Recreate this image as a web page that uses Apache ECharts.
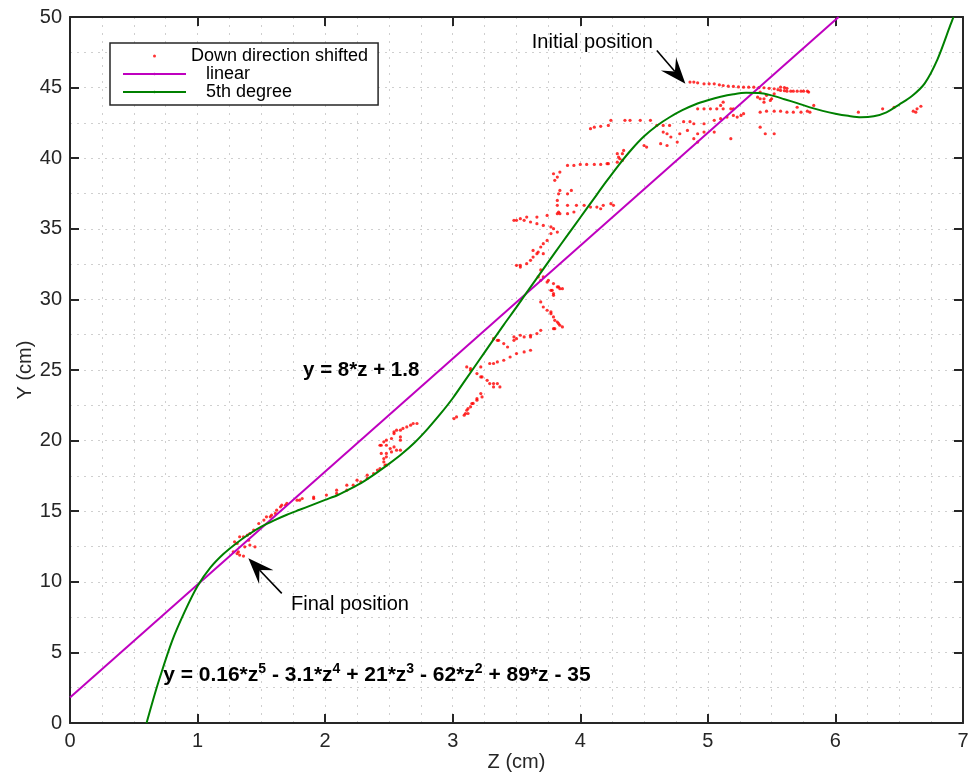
<!DOCTYPE html>
<html>
<head>
<meta charset="utf-8">
<script src="https://cdn.jsdelivr.net/npm/echarts@6/dist/echarts.min.js"></script>
<style>
  html, body { margin: 0; padding: 0; background: #fff; }
  #chart { width: 968px; height: 778px; }
</style>
</head>
<body>
<div id="chart"></div>
<script>
// Measured trajectory (Z, Y) in cm, down direction shifted
const downShifted = [
  [1.28,12.12],[1.31,12.0],[1.33,11.89],[1.36,11.82],[1.29,12.83],[1.32,12.12],[1.37,12.48],[1.41,12.6],[1.45,12.48],
  [1.31,12.72],[1.33,13.19],[1.39,13.3],[1.40,12.95],[1.36,13.19],[1.41,13.42],[1.44,13.66],[1.48,14.13],[1.52,14.37],
  [1.54,14.6],[1.57,14.6],[1.58,14.72],[1.61,14.84],[1.62,15.07],[1.65,15.31],[1.66,15.43],[1.69,15.43],[1.70,15.55],
  [1.78,15.78],[1.80,15.78],[1.82,15.9],[1.91,15.9],[1.91,16.0],[2.01,16.14],[2.09,16.26],[2.09,16.49],[2.17,16.49],
  [2.17,16.84],[2.22,16.84],[2.25,17.2],[2.28,17.08],[2.33,17.32],[2.33,17.55],[2.38,17.67],[2.41,17.91],[2.43,18.02],
  [2.47,18.26],[2.48,18.26],[2.46,18.49],[2.46,18.73],[2.48,18.85],[2.44,19.09],[2.48,19.09],[2.52,19.2],[2.51,19.44],
  [2.56,19.32],[2.59,19.32],[2.54,19.55],[2.48,19.67],[2.44,19.67],[2.43,19.67],[2.46,19.91],[2.48,20.03],[2.52,20.15],
  [2.59,20.03],[2.59,20.26],[2.54,20.5],[2.54,20.62],[2.56,20.74],[2.59,20.74],[2.61,20.86],[2.64,20.97],[2.67,21.09],
  [2.69,21.21],[2.72,21.21],
  [3.01,21.56],[3.03,21.68],[3.09,21.8],[3.10,21.92],[3.12,21.92],[3.11,22.15],[3.12,22.27],[3.14,22.39],[3.15,22.62],
  [3.16,22.63],[3.19,22.86],[3.19,22.97],[3.23,23.09],[3.22,23.33],[3.32,23.8],[3.37,23.8],[3.35,24.04],[3.32,24.04],
  [3.29,24.04],[3.27,24.27],[3.23,24.51],[3.22,24.51],[3.19,24.75],[3.14,24.98],[3.14,25.1],[3.11,25.22],[3.22,25.22],
  [3.29,25.46],[3.32,25.46],[3.35,25.57],[3.40,25.69],[3.45,25.92],[3.50,26.16],[3.56,26.28],[3.61,26.4],[3.43,26.63],
  [3.40,26.87],[3.35,27.1],[3.32,27.22],[3.36,27.1],[3.48,27.1],[3.50,27.22],[3.56,27.34],[3.61,27.34],[3.48,27.34],
  [3.53,27.46],[3.61,27.46],[3.66,27.58],[3.69,27.81],[3.79,27.93],[3.80,27.93],[3.86,28.05],[3.84,28.17],[3.83,28.29],
  [3.82,28.4],[3.80,28.52],[3.79,28.76],[3.77,28.99],[3.77,29.11],[3.74,29.23],[3.71,29.46],[3.69,29.82],[3.79,30.29],
  [3.79,30.41],[3.78,30.64],[3.77,30.64],[3.86,30.76],[3.84,30.76],[3.83,30.88],[3.82,30.88],[3.79,31.12],[3.75,31.35],
  [3.74,31.23],[3.69,31.35],[3.71,31.59],[3.67,31.59],[3.69,32.09],[3.53,32.41],[3.50,32.41],[3.53,32.29],[3.58,32.53],
  [3.61,32.77],[3.63,33.0],[3.66,33.24],[3.71,33.24],[3.67,33.35],[3.63,33.47],[3.69,33.71],[3.71,33.95],[3.74,34.18],
  [3.77,34.66],[3.82,34.77],[3.79,35.01],[3.77,35.13],[3.71,35.24],[3.66,35.36],[3.61,35.48],[3.56,35.6],[3.50,35.6],
  [3.48,35.6],[3.53,35.72],[3.58,35.83],[3.66,35.83],[3.74,35.95],[3.82,36.07],[3.83,36.19],[3.84,36.07],[3.90,36.07],
  [3.95,36.19],[3.82,36.66],[3.90,36.66],[3.97,36.66],[4.03,36.66],[4.08,36.54],[4.13,36.54],[4.18,36.66],[4.24,36.78],
  [4.26,36.66],[4.16,36.42],[3.82,37.01],[3.83,37.48],[3.84,37.72],[3.90,37.48],[3.93,37.72],[3.80,38.43],[3.82,38.66],
  [3.79,38.9],[3.84,39.02],[3.90,39.49],[3.95,39.49],[4.0,39.56],[4.05,39.56],[4.11,39.56],[4.16,39.56],[4.21,39.61],
  [4.22,39.61],[4.29,39.72],[4.31,39.96],[4.33,40.32],[4.34,40.55],[4.30,40.08],[4.33,39.84],[4.29,40.32],
  [4.08,42.09],[4.11,42.2],[4.16,42.26],[4.22,42.32],[4.24,42.68],[4.35,42.68],[4.39,42.68],[4.47,42.68],[4.55,42.68],
  [4.60,42.32],[4.65,42.32],[4.70,42.32],[4.81,42.59],[4.86,42.59],[4.89,42.44],[4.97,42.44],[5.05,42.68],[5.10,42.8],
  [5.15,42.91],[5.20,43.03],[5.23,42.91],[5.26,43.03],[5.28,43.15],[4.68,41.73],[4.71,41.5],[4.78,41.73],[4.84,41.97],
  [4.92,41.73],[4.97,41.85],[5.05,41.85],[4.89,41.38],[4.92,41.14],[4.63,41.03],[4.68,40.9],[4.76,41.14],[4.52,40.79],
  [4.50,40.9],[5.18,41.38],[5.41,42.2],[5.45,41.73],[5.52,41.73],[4.65,41.85],
  [4.92,43.5],[4.97,43.5],[5.02,43.5],[5.07,43.5],[5.12,43.5],[5.18,43.5],[5.20,43.5],
  [5.12,43.97],[5.10,43.74],[5.41,44.21],[5.44,44.21],[5.49,44.09],[5.39,44.32],[5.44,43.97],[5.50,44.21],
  [5.46,43.33],[5.52,43.33],[5.57,43.33],[5.62,43.26],[5.67,43.26],[5.73,43.26],[5.78,43.33],[5.80,43.26],[5.70,43.61],
  [5.83,43.74],[5.41,43.26],
  [4.86,45.39],[4.89,45.39],[4.92,45.34],[4.97,45.27],[5.01,45.27],[5.05,45.27],[5.09,45.2],[5.12,45.15],[5.16,45.1],
  [5.20,45.08],[5.24,45.05],[5.28,45.03],[5.32,45.03],[5.36,45.03],[5.40,45.0],[5.44,44.99],[5.48,44.95],[5.52,44.92],
  [5.55,44.85],[5.57,44.8],[5.60,44.78],[5.62,44.75],[5.65,44.75],[5.67,44.75],[5.70,44.75],[5.73,44.75],[5.75,44.75],
  [5.78,44.75],[5.57,45.03],[5.60,45.0],[5.62,44.95],[5.41,44.68],[5.46,44.45],[5.52,44.56],[5.79,44.68],
  [6.18,43.26],[6.37,43.5],[6.46,43.61],[6.61,43.33],[6.63,43.26],[6.64,43.5],[6.67,43.68]
];

// Least-squares linear fit, end points
const linearFit = [[0, 1.8], [6.025, 50]];

// 5th degree fit, sampled along the curve
const quinticFit = [
  [0.60,0],[0.65,1.6],[0.70,3.1],[0.80,5.8],[0.90,7.9],[1.00,9.7],[1.10,11.0],[1.20,11.95],[1.30,12.7],
  [1.40,13.35],[1.50,13.9],[1.60,14.35],[1.70,14.75],[1.80,15.1],[1.90,15.45],[2.00,15.8],[2.10,16.15],
  [2.20,16.6],[2.30,17.1],[2.40,17.7],[2.50,18.35],[2.60,19.05],[2.70,19.85],[2.80,20.8],[2.90,21.85],
  [3.00,23.0],[3.10,24.3],[3.20,25.6],[3.30,26.9],[3.40,28.2],[3.50,29.45],[3.60,30.75],[3.70,32.02],
  [3.80,33.3],[3.90,34.55],[4.00,35.8],[4.10,37.05],[4.20,38.3],[4.30,39.5],[4.40,40.6],[4.50,41.55],
  [4.60,42.3],[4.70,42.9],[4.80,43.4],[4.90,43.8],[5.00,44.1],[5.10,44.35],[5.20,44.53],[5.30,44.63],
  [5.40,44.62],[5.50,44.45],[5.60,44.18],[5.70,43.9],[5.80,43.6],[5.90,43.35],[6.00,43.15],[6.10,43.0],
  [6.20,42.9],[6.30,42.97],[6.40,43.25],[6.50,43.8],[6.60,44.4],[6.70,45.3],[6.80,47.0],[6.90,49.4],[6.925,50]
];

const seriesNames = ['Down direction shifted', 'linear', '5th degree'];
const xTicks = { min: 0, max: 7, step: 1 };
const yTicks = { min: 0, max: 50, step: 5 };

const FONT = '"Liberation Sans", Arial, Helvetica, sans-serif';
const INK = '#262626';
const vDots = { color: '#cfcfcf', width: 1, type: [2, 6] };
const hDots = { color: '#cfcfcf', width: 1, type: [2, 5] };

const chart = echarts.init(document.getElementById('chart'), null, { renderer: 'canvas' });

function valueAxis(range, extra) {
  return Object.assign({
    type: 'value', min: range.min, max: range.max, interval: range.step,
    axisLine: { show: true, onZero: false, lineStyle: { color: INK, width: 2 } },
    axisTick: { show: true, inside: true, length: 9, lineStyle: { color: INK, width: 2 } },
    splitLine: { show: false },
    axisLabel: { show: false }
  }, extra);
}

const option = {
  animation: false,
  backgroundColor: '#fff',
  textStyle: { fontFamily: FONT },
  grid: { left: 70, right: 5, top: 17, bottom: 55, containLabel: false, outerBoundsMode: 'none' },
  xAxis: [
    valueAxis(xTicks, {
      position: 'bottom',
      name: 'Z (cm)', nameLocation: 'middle', nameGap: 29, nameMoveOverlap: false,
      nameTextStyle: { fontSize: 20, color: INK, fontFamily: FONT },
      axisLabel: { show: true, fontSize: 20, color: INK, margin: 8, fontFamily: FONT },
      splitLine: { show: true, lineStyle: vDots },
      minorTick: { show: false, splitNumber: 4 },
      minorSplitLine: { show: true, lineStyle: vDots }
    }),
    valueAxis(xTicks, { position: 'top' })
  ],
  yAxis: [
    valueAxis(yTicks, {
      position: 'left',
      name: 'Y (cm)', nameLocation: 'middle', nameGap: 35, nameRotate: 90, nameMoveOverlap: false,
      nameTextStyle: { fontSize: 20, color: INK, fontFamily: FONT },
      axisLabel: { show: true, fontSize: 20, color: INK, margin: 8, fontFamily: FONT },
      splitLine: { show: true, lineStyle: hDots },
      minorTick: { show: false, splitNumber: 2 },
      minorSplitLine: { show: true, lineStyle: hDots }
    }),
    valueAxis(yTicks, { position: 'right' })
  ],
  legend: {
    orient: 'vertical', left: 110, top: 43,
    padding: [4, 10, 4, 12], itemGap: 0,
    itemWidth: 63, itemHeight: 3,
    backgroundColor: '#fff', borderColor: INK, borderWidth: 1.5, borderRadius: 0,
    selectedMode: false,
    textStyle: {
      fontSize: 18, color: '#000', fontFamily: FONT, lineHeight: 17,
      rich: { ind: { width: 15 } }
    },
    formatter: name => (name === seriesNames[0] ? name : '{ind|}' + name),
    data: seriesNames
  },
  series: [
    {
      name: seriesNames[0], type: 'scatter', data: downShifted,
      symbol: 'circle', symbolSize: 3.2,
      itemStyle: { color: '#ff0000' },
      z: 2
    },
    {
      name: seriesNames[1], type: 'line', data: linearFit,
      showSymbol: false, symbol: 'none',
      lineStyle: { color: '#bf00bf', width: 2 }, itemStyle: { color: '#bf00bf' },
      z: 3
    },
    {
      name: seriesNames[2], type: 'line', data: quinticFit,
      showSymbol: false, symbol: 'none', smooth: 0.3,
      lineStyle: { color: '#008000', width: 2 }, itemStyle: { color: '#008000' },
      z: 4
    }
  ]
};

chart.setOption(option);

// Annotations anchored at data coordinates
const toPx = (pt) => chart.convertToPixel({ xAxisIndex: 0, yAxisIndex: 0 }, pt);
const graphics = [];

function arrow(from, to) {
  const s = toPx(from), t = toPx(to);
  const dx = t[0] - s[0], dy = t[1] - s[1];
  const len = Math.hypot(dx, dy);
  const ux = dx / len, uy = dy / len, nx = -uy, ny = ux;
  const L = 26, W = 10, notch = 0.62 * L;
  graphics.push({
    type: 'line', z: 100,
    shape: { x1: s[0], y1: s[1], x2: t[0] - ux * notch, y2: t[1] - uy * notch },
    style: { stroke: '#000', lineWidth: 1.6 }
  });
  graphics.push({
    type: 'polygon', z: 100,
    shape: { points: [
      [t[0], t[1]],
      [t[0] - ux * L + nx * W, t[1] - uy * L + ny * W],
      [t[0] - ux * notch, t[1] - uy * notch],
      [t[0] - ux * L - nx * W, t[1] - uy * L - ny * W]
    ] },
    style: { fill: '#000' }
  });
}
arrow([4.60, 47.63], [4.824, 45.27]);
arrow([1.66, 9.18], [1.398, 11.66]);

const notes = [
  { at: [3.62, 48.2], text: 'Initial position', font: '20px ' + FONT },
  { at: [1.733, 8.4], text: 'Final position', font: '20px ' + FONT },
  { at: [1.827, 25.0], text: 'y = 8*z + 1.8', font: 'bold 20.5px ' + FONT }
];
notes.forEach(n => {
  const p = toPx(n.at);
  graphics.push({
    type: 'text', x: p[0], y: p[1], z: 100,
    style: { text: n.text, fill: '#000', font: n.font, textAlign: 'left', textVerticalAlign: 'middle' }
  });
});

const eqPos = toPx([0.73, 3.47]);
graphics.push({
  type: 'text', x: eqPos[0], y: eqPos[1], z: 100,
  style: {
    text: '{b|y = 0.16*z}{s|5}{b| - 3.1*z}{s|4}{b| + 21*z}{s|3}{b| - 62*z}{s|2}{b| + 89*z - 35}',
    textAlign: 'left', textVerticalAlign: 'middle',
    rich: {
      b: { fontSize: 21, fontWeight: 'bold', fontFamily: FONT, fill: '#000', lineHeight: 23, verticalAlign: 'bottom' },
      s: { fontSize: 14, fontWeight: 'bold', fontFamily: FONT, fill: '#000', lineHeight: 15, verticalAlign: 'top' }
    }
  }
});
chart.setOption({ graphic: graphics });
</script>
</body>
</html>
